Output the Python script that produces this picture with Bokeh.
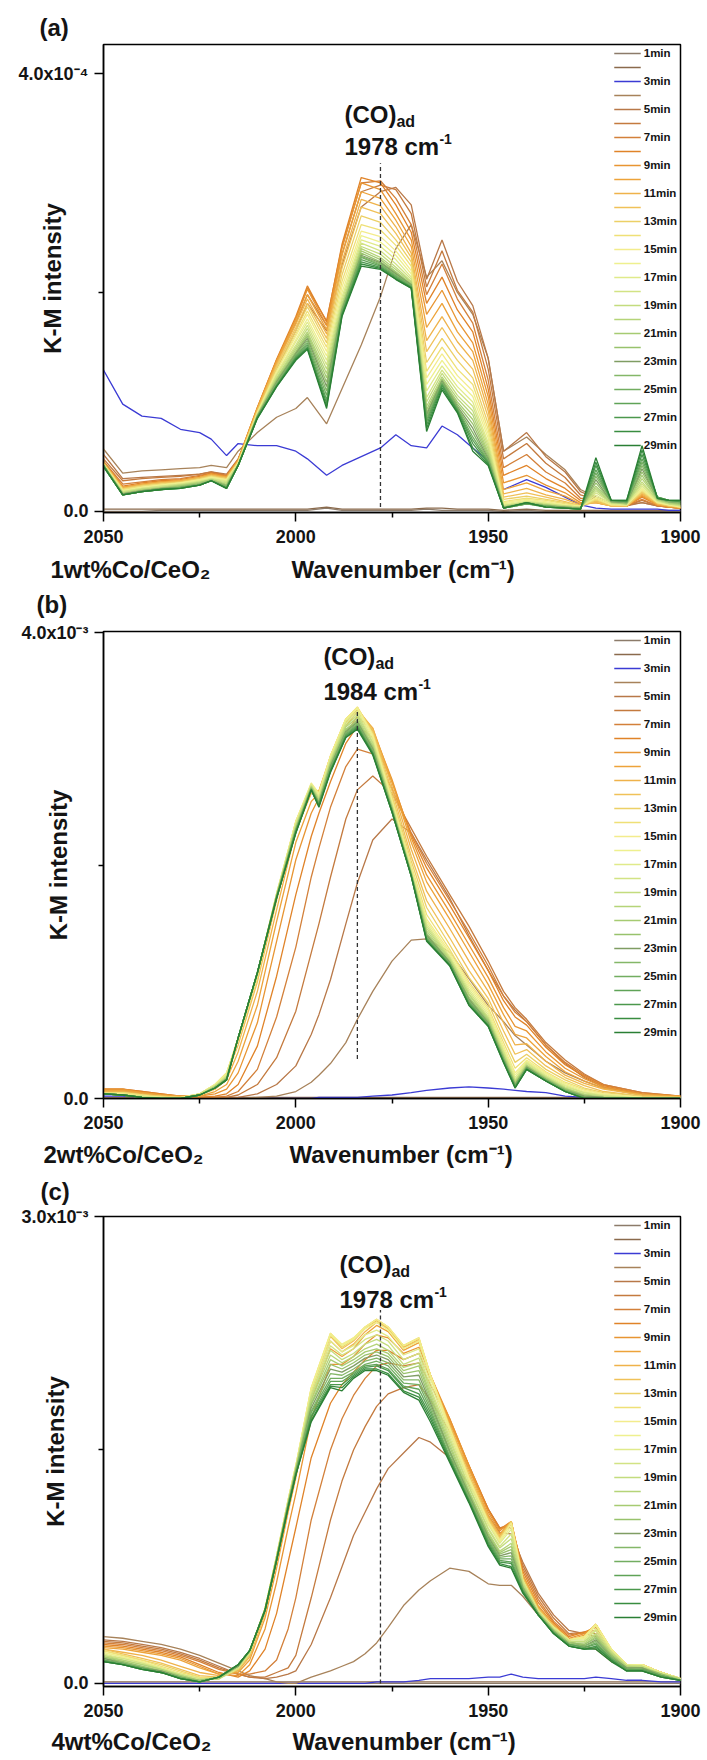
import math
from bokeh.plotting import figure
from bokeh.models import Range1d, FixedTicker, Legend, LegendItem, Label, Title
from bokeh.layouts import column
from bokeh.embed import file_html
from bokeh.resources import INLINE
from bokeh.core.properties import value

# ---------------- data ----------------
times = ["1min", "2min", "3min", "4min", "5min", "6min", "7min", "8min", "9min", "10min",
         "11min", "12min", "13min", "14min", "15min", "16min", "17min", "18min", "19min", "20min",
         "21min", "22min", "23min", "24min", "25min", "26min", "27min", "28min", "29min"]
legend_labels = ["1min", "", "3min", "", "5min", "", "7min", "", "9min", "", "11min", "",
                 "13min", "", "15min", "", "17min", "", "19min", "", "21min", "", "23min", "",
                 "25min", "", "27min", "", "29min"]
colors = ["#8c7b6a", "#8a6a4c", "#3b3bd4", "#a7825a", "#b87848", "#c47a3e", "#d3803a", "#e08328",
          "#e89532", "#eda33a", "#efb24a", "#f0c158", "#ecd066", "#efe076", "#f3ec8c", "#eef08e",
          "#e0ea8a", "#d2e384", "#c3dc7e", "#b5d478", "#a6cb72", "#98c26c", "#7f9d63", "#84b768",
          "#72ad60", "#5fa357", "#4b984c", "#398d40", "#2a7f34"]

# panel (a) 1wt%Co/CeO2, K-M intensity in units of 1e-6
wn_a = [2050, 2045, 2040, 2035, 2030, 2025, 2022, 2018, 2015, 2010, 2005, 2000, 1997, 1992, 1988, 1983,
        1978, 1974, 1970, 1966, 1962, 1958, 1954, 1950, 1946, 1940, 1935, 1930, 1926, 1922, 1918, 1914,
        1910, 1906, 1903, 1900]
a01 = [0, 0, 0, 1, 1, 1, 1, 1, 1, 1, 1, 1, 1, 3, 1, 1, 1, 1, 1, 2, 1, 1, 1, 1, 0, 1, 0, 0, 0, 0, 0, 0, 0, 0, 0, 0]
a02 = [2, 2, 2, 2, 2, 2, 2, 2, 2, 2, 2, 2, 2, 4, 2, 2, 2, 2, 2, 3, 3, 2, 2, 2, 1, 2, 1, 1, 1, 1, 1, 1, 1, 1, 1, 1]
a03 = [129, 98, 87, 85, 75, 72, 66, 51, 62, 60, 60, 55, 48, 33, 42, 50, 58, 70, 60, 58, 78, 70, 58, 46, 20, 29, 22, 13, 6, 3, 2, 2, 2, 2, 1, 1]
a04 = [57, 35, 37, 38, 39, 40, 42, 40, 55, 72, 86, 94, 104, 80, 112, 152, 196, 240, 262, 214, 229, 200, 180, 140, 55, 68, 52, 38, 20, 13, 8, 6, 8, 5, 4, 3]
a05 = [52, 30, 31, 32, 33, 34, 36, 34, 48, 90, 130, 165, 190, 165, 225, 278, 292, 296, 280, 212, 248, 210, 188, 140, 55, 72, 50, 36, 18, 12, 7, 5, 8, 5, 4, 3]
a06 = [48, 28, 30, 31, 32, 34, 36, 33, 47, 92, 136, 172, 198, 170, 235, 292, 298, 294, 272, 205, 238, 202, 182, 130, 48, 62, 44, 31, 15, 11, 7, 5, 10, 5, 4, 3]
a07 = [46, 25, 27, 29, 30, 33, 35, 33, 47, 94, 138, 176, 204, 174, 242, 300, 302, 286, 262, 198, 226, 194, 172, 120, 40, 52, 36, 26, 12, 10, 6, 5, 11, 5, 4, 3]
a08 = [45, 23, 26, 28, 29, 32, 35, 32, 47, 95, 139, 178, 206, 173, 244, 305, 300, 280, 255, 190, 214, 184, 164, 112, 33, 42, 30, 21, 10, 9, 6, 5, 13, 6, 4, 3]
a09 = [45, 22, 25, 27, 28, 31, 34, 32, 47, 95, 138, 176, 203, 170, 240, 300, 294, 272, 248, 180, 202, 174, 154, 105, 26, 33, 24, 17, 8, 8, 5, 5, 14, 6, 4, 3]
a10 = [45, 22, 25, 27, 28, 31, 34, 31, 46, 94, 137, 174, 198, 166, 234, 292, 286, 266, 242, 168, 190, 164, 146, 98, 20, 26, 19, 14, 7, 8, 5, 5, 15, 6, 5, 3]
a11 = [44, 21, 24, 26, 28, 31, 33, 31, 46, 93, 135, 171, 194, 162, 228, 285, 279, 260, 236, 156, 178, 155, 138, 92, 16, 21, 15, 11, 6, 8, 5, 5, 16, 7, 5, 4]
a12 = [44, 21, 24, 26, 27, 30, 33, 30, 45, 92, 133, 168, 190, 158, 222, 278, 272, 254, 232, 146, 168, 146, 130, 86, 13, 17, 13, 9, 5, 9, 5, 5, 17, 7, 5, 4]
a13 = [44, 20, 23, 25, 27, 30, 32, 30, 45, 91, 131, 165, 187, 154, 216, 270, 264, 248, 228, 136, 158, 138, 122, 80, 11, 14, 11, 8, 5, 10, 6, 5, 18, 8, 5, 4]
a14 = [43, 20, 23, 25, 26, 29, 32, 29, 44, 90, 129, 162, 183, 150, 210, 262, 257, 243, 224, 128, 150, 130, 116, 75, 9, 12, 10, 7, 5, 11, 6, 6, 19, 8, 6, 4]
a15 = [43, 19, 22, 24, 26, 29, 31, 29, 44, 90, 128, 160, 180, 146, 205, 256, 251, 238, 220, 122, 144, 124, 110, 71, 8, 11, 9, 6, 5, 12, 6, 6, 20, 8, 6, 4]
a16 = [43, 19, 22, 24, 26, 28, 31, 28, 44, 89, 126, 157, 176, 142, 200, 252, 246, 234, 217, 116, 138, 119, 105, 67, 7, 10, 8, 6, 4, 13, 7, 6, 21, 9, 6, 5]
a17 = [43, 18, 21, 23, 25, 28, 30, 28, 43, 89, 125, 155, 173, 138, 196, 248, 242, 230, 214, 110, 133, 114, 100, 63, 6, 9, 7, 5, 4, 15, 7, 6, 23, 9, 7, 5]
a18 = [42, 18, 21, 23, 25, 27, 30, 27, 43, 88, 124, 152, 170, 134, 193, 245, 238, 226, 212, 104, 129, 110, 96, 60, 5, 9, 7, 5, 4, 17, 8, 7, 25, 10, 7, 5]
a19 = [42, 17, 20, 22, 24, 27, 29, 26, 43, 88, 122, 150, 167, 130, 190, 242, 235, 223, 210, 100, 126, 106, 92, 57, 5, 8, 6, 5, 4, 19, 8, 7, 27, 10, 7, 6]
a20 = [42, 17, 20, 22, 24, 26, 29, 25, 42, 88, 121, 148, 164, 126, 188, 240, 232, 221, 209, 96, 123, 103, 88, 54, 4, 8, 6, 4, 3, 21, 8, 7, 30, 11, 8, 6]
a21 = [42, 16, 19, 21, 23, 26, 29, 24, 42, 87, 120, 146, 162, 122, 186, 238, 230, 219, 208, 93, 121, 100, 84, 52, 4, 8, 6, 4, 3, 23, 9, 7, 33, 11, 8, 7]
a22 = [42, 16, 19, 21, 23, 25, 28, 24, 42, 87, 119, 145, 160, 118, 185, 236, 228, 218, 207, 90, 120, 98, 80, 50, 4, 7, 5, 4, 3, 26, 9, 8, 36, 12, 9, 7]
a23 = [42, 16, 19, 21, 22, 25, 28, 23, 42, 87, 118, 144, 158, 114, 184, 234, 227, 217, 207, 88, 119, 96, 76, 48, 4, 7, 5, 4, 3, 29, 9, 8, 39, 12, 9, 8]
a24 = [42, 15, 18, 20, 22, 25, 28, 23, 42, 86, 117, 143, 156, 110, 183, 233, 226, 216, 206, 86, 118, 95, 72, 47, 3, 7, 5, 3, 3, 32, 10, 8, 42, 12, 9, 8]
a25 = [42, 15, 18, 20, 22, 24, 28, 22, 42, 86, 116, 142, 154, 106, 182, 232, 225, 215, 206, 84, 117, 94, 68, 46, 3, 7, 5, 3, 2, 35, 10, 9, 45, 13, 10, 9]
a26 = [42, 15, 18, 20, 22, 24, 28, 22, 42, 86, 115, 141, 152, 102, 181, 230, 224, 214, 205, 82, 116, 93, 65, 45, 3, 7, 4, 3, 2, 38, 10, 9, 48, 13, 10, 9]
a27 = [41, 15, 18, 20, 21, 24, 28, 21, 42, 86, 115, 140, 150, 99, 180, 228, 223, 213, 205, 79, 115, 92, 62, 44, 3, 8, 4, 3, 2, 42, 10, 9, 52, 13, 10, 9]
a28 = [41, 15, 18, 20, 21, 24, 28, 21, 42, 85, 114, 139, 149, 96, 179, 226, 222, 212, 204, 76, 113, 91, 58, 43, 3, 8, 4, 3, 2, 45, 10, 10, 56, 12, 10, 10]
a29 = [41, 15, 18, 20, 21, 24, 28, 21, 42, 85, 114, 138, 148, 94, 178, 224, 221, 212, 204, 73, 111, 90, 55, 42, 3, 8, 4, 3, 2, 49, 10, 10, 60, 12, 10, 10]

# panel (b) 2wt%Co/CeO2, K-M intensity in units of 1e-5
wn_b = [2050, 2045, 2040, 2035, 2030, 2025, 2021, 2018, 2015, 2010, 2005, 2000, 1996, 1994, 1991, 1987,
        1984, 1980, 1975, 1970, 1966, 1960, 1955, 1950, 1946, 1943, 1940, 1935, 1930, 1925, 1920, 1910, 1900]
b01 = [0, 0, 0, 0, 0, 0, 0, 0, 0, 0, 0, 0, 0, 0, 0, 0, 0, 0, 0, 0, 0, 0, 0, 0, 0, 0, 0, 0, 0, 0, 0, 0, 0]
b02 = [1, 1, 1, 1, 1, 1, 1, 1, 1, 1, 1, 1, 1, 1, 1, 1, 1, 1, 1, 1, 1, 1, 1, 1, 1, 1, 1, 1, 1, 1, 1, 1, 1]
b03 = [2, 2, 1, 1, 1, 0, 0, 0, 0, 0, 0, 0, 0, 1, 1, 1, 1, 2, 3, 5, 7, 9, 10, 9, 8, 7, 6, 5, 2, 1, 0, 0, 0]
b04 = [0, 0, 0, 0, 0, 0, 0, 0, 0, 1, 2, 6, 14, 20, 30, 48, 68, 92, 118, 136, 137, 126, 103, 80, 66, 54, 46, 32, 22, 15, 9, 3, 1]
b05 = [6, 6, 4, 3, 2, 1, 0, 0, 1, 4, 12, 28, 55, 72, 102, 150, 185, 222, 240, 228, 205, 172, 140, 110, 88, 76, 66, 46, 30, 18, 10, 3, 1]
b06 = [7, 7, 5, 3, 2, 1, 1, 1, 3, 12, 35, 75, 125, 150, 190, 240, 265, 277, 262, 232, 208, 175, 148, 118, 92, 78, 68, 48, 33, 21, 12, 5, 2]
b07 = [8, 8, 6, 4, 2, 1, 1, 2, 6, 25, 70, 130, 190, 215, 250, 285, 300, 296, 266, 228, 202, 170, 143, 114, 88, 74, 66, 46, 31, 20, 12, 5, 2]
b08 = [8, 8, 6, 4, 2, 1, 2, 4, 12, 45, 105, 175, 225, 245, 272, 305, 320, 310, 272, 226, 198, 166, 138, 110, 84, 70, 63, 44, 29, 19, 11, 4, 2]
b09 = [8, 8, 5, 3, 2, 2, 4, 8, 22, 65, 135, 205, 245, 258, 282, 314, 328, 316, 274, 224, 192, 160, 132, 104, 78, 62, 58, 40, 26, 17, 10, 4, 2]
b10 = [7, 7, 5, 3, 2, 2, 6, 12, 32, 80, 152, 220, 255, 262, 288, 320, 332, 318, 272, 220, 186, 154, 126, 98, 72, 55, 52, 36, 23, 15, 9, 3, 2]
b11 = [6, 6, 4, 2, 1, 3, 8, 16, 40, 92, 162, 230, 262, 264, 292, 323, 334, 318, 268, 214, 178, 146, 118, 92, 65, 46, 47, 32, 20, 13, 8, 3, 1]
b12 = [5, 5, 3, 2, 1, 3, 10, 20, 46, 100, 170, 236, 266, 264, 294, 325, 335, 316, 264, 208, 170, 138, 110, 86, 58, 38, 42, 28, 18, 11, 6, 2, 1]
b13 = [5, 5, 3, 2, 1, 4, 12, 22, 50, 104, 174, 238, 268, 262, 294, 326, 336, 314, 260, 204, 164, 132, 104, 82, 52, 31, 38, 25, 16, 9, 5, 2, 1]
b14 = [5, 5, 3, 1, 1, 4, 12, 22, 51, 105, 175, 238, 270, 262, 294, 326, 336, 313, 258, 200, 158, 128, 100, 78, 48, 26, 35, 23, 14, 8, 4, 1, 0]
b15 = [4, 4, 2, 1, 0, 4, 12, 22, 52, 106, 176, 238, 271, 262, 294, 326, 336, 312, 256, 198, 154, 126, 98, 76, 45, 22, 33, 22, 13, 7, 4, 1, 0]
b16 = [4, 4, 2, 1, 0, 4, 12, 21, 52, 106, 176, 237, 270, 261, 293, 325, 335, 310, 254, 197, 152, 124, 96, 74, 43, 20, 32, 21, 12, 6, 3, 1, 0]
b17 = [4, 3, 2, 1, 0, 4, 11, 20, 52, 107, 176, 236, 270, 259, 292, 324, 333, 308, 253, 196, 150, 122, 94, 72, 41, 18, 31, 20, 11, 5, 3, 0, 0]
b18 = [4, 3, 2, 0, 0, 4, 11, 19, 52, 107, 175, 235, 269, 258, 290, 322, 331, 306, 252, 195, 148, 121, 92, 70, 40, 16, 30, 19, 10, 5, 2, 0, 0]
b19 = [4, 3, 1, 0, 0, 3, 10, 18, 52, 107, 175, 234, 268, 257, 289, 320, 329, 305, 251, 194, 146, 120, 90, 69, 38, 15, 29, 18, 9, 4, 2, 0, 0]
b20 = [4, 3, 1, 0, 0, 3, 10, 18, 52, 107, 174, 233, 268, 256, 288, 319, 327, 303, 250, 194, 144, 119, 89, 68, 37, 14, 28, 18, 9, 3, 1, 0, 0]
b21 = [4, 3, 1, 0, 0, 3, 10, 17, 52, 108, 174, 232, 267, 255, 287, 317, 325, 302, 249, 193, 142, 118, 87, 67, 36, 13, 28, 17, 8, 3, 1, 0, 0]
b22 = [4, 3, 1, 0, 0, 3, 10, 17, 52, 108, 174, 231, 267, 254, 286, 316, 324, 301, 249, 193, 141, 117, 86, 66, 35, 12, 27, 17, 8, 2, 1, 0, 0]
b23 = [4, 3, 1, 0, 0, 3, 9, 17, 52, 108, 173, 231, 266, 254, 285, 315, 323, 300, 248, 192, 140, 117, 85, 65, 34, 12, 27, 16, 7, 2, 1, 0, 0]
b24 = [4, 3, 1, 0, 0, 3, 9, 16, 52, 108, 173, 230, 266, 253, 284, 314, 322, 299, 248, 192, 139, 116, 84, 64, 33, 11, 26, 16, 7, 1, 0, 0, 0]
b25 = [4, 3, 1, 0, 0, 3, 9, 16, 52, 108, 173, 230, 266, 253, 283, 313, 321, 298, 247, 192, 138, 116, 83, 64, 33, 11, 26, 16, 7, 1, 0, 0, 0]
b26 = [4, 3, 1, 0, 0, 3, 9, 16, 52, 108, 172, 229, 265, 252, 282, 312, 320, 297, 247, 191, 137, 115, 82, 63, 32, 10, 26, 15, 6, 1, 0, 0, 0]
b27 = [4, 3, 1, 0, 0, 3, 9, 16, 52, 108, 172, 229, 265, 252, 281, 311, 319, 296, 246, 191, 136, 115, 81, 63, 32, 10, 25, 15, 6, 0, 0, 0, 0]
b28 = [4, 3, 1, 0, 0, 3, 9, 16, 52, 108, 172, 228, 265, 251, 281, 310, 318, 296, 246, 191, 136, 114, 80, 62, 31, 9, 25, 15, 6, 0, 0, 0, 0]
b29 = [4, 3, 1, 0, 0, 3, 9, 16, 52, 108, 172, 228, 265, 250, 280, 310, 317, 295, 246, 191, 135, 114, 80, 62, 31, 9, 25, 15, 6, 0, 0, 0, 0]

# panel (c) 4wt%Co/CeO2, K-M intensity in units of 1e-5
wn_c = [2050, 2045, 2040, 2035, 2030, 2025, 2020, 2015, 2012, 2008, 2005, 2002, 2000, 1996, 1991, 1988,
        1985, 1982, 1979, 1976, 1972, 1968, 1965, 1960, 1955, 1950, 1947, 1944, 1941, 1937, 1933, 1929,
        1925, 1922, 1918, 1914, 1910, 1905, 1900]
c01 = [0, 0, 0, 0, 0, 0, 0, 0, 0, 0, 0, 0, 0, 0, 0, 0, 0, 0, 0, 0, 0, 0, 0, 0, 0, 0, 0, 0, 0, 0, 0, 0, 0, 0, 0, 0, 0, 0, 0]
c02 = [1, 1, 1, 1, 1, 1, 1, 1, 1, 1, 1, 1, 1, 1, 1, 1, 1, 1, 1, 1, 1, 1, 1, 1, 1, 1, 1, 1, 1, 1, 1, 1, 1, 1, 1, 1, 1, 1, 1]
c03 = [0, 0, 0, 0, 0, 0, 0, 0, 0, 0, 0, 0, 0, 0, 0, 0, 0, 0, 1, 1, 1, 2, 3, 3, 3, 4, 4, 6, 4, 3, 3, 3, 3, 4, 3, 2, 2, 1, 1]
c04 = [30, 29, 27, 25, 22, 18, 13, 8, 5, 3, 1, 0, 0, 4, 8, 11, 14, 19, 26, 36, 50, 60, 66, 74, 72, 64, 63, 63, 56, 44, 34, 27, 24, 22, 14, 10, 8, 5, 3]
c05 = [28, 27, 25, 23, 20, 16, 11, 6, 4, 3, 4, 6, 8, 25, 55, 75, 95, 110, 125, 138, 148, 158, 155, 145, 128, 108, 97, 96, 78, 58, 44, 34, 32, 30, 18, 12, 10, 6, 3]
c06 = [27, 26, 24, 22, 19, 15, 10, 6, 4, 4, 7, 10, 18, 55, 105, 130, 150, 165, 178, 186, 190, 192, 182, 162, 138, 112, 100, 100, 76, 56, 42, 32, 33, 32, 19, 12, 11, 6, 3]
c07 = [26, 25, 23, 21, 18, 14, 9, 6, 6, 8, 15, 35, 55, 105, 150, 170, 185, 196, 204, 206, 204, 206, 192, 168, 140, 112, 100, 102, 74, 54, 40, 31, 33, 34, 20, 12, 11, 7, 3]
c08 = [25, 24, 22, 20, 17, 12, 7, 4, 8, 22, 45, 78, 100, 145, 180, 192, 200, 208, 214, 214, 208, 212, 196, 170, 140, 112, 99, 104, 72, 52, 39, 30, 33, 36, 20, 12, 12, 7, 3]
c09 = [24, 23, 21, 19, 16, 11, 6, 5, 12, 35, 65, 100, 122, 170, 205, 205, 210, 218, 224, 222, 212, 216, 198, 170, 140, 110, 98, 104, 70, 50, 38, 29, 32, 37, 20, 12, 12, 7, 3]
c10 = [23, 22, 20, 18, 15, 10, 6, 7, 15, 42, 74, 110, 132, 182, 215, 210, 215, 224, 230, 226, 214, 219, 198, 168, 138, 108, 96, 104, 69, 49, 37, 28, 31, 38, 21, 12, 12, 7, 3]
c11 = [22, 20, 18, 15, 11, 7, 5, 8, 17, 45, 78, 114, 136, 186, 220, 213, 218, 226, 232, 228, 216, 220, 198, 166, 136, 107, 95, 104, 68, 48, 37, 28, 30, 38, 21, 12, 12, 7, 3]
c12 = [22, 19, 16, 13, 9, 5, 4, 9, 18, 46, 80, 116, 138, 188, 223, 215, 220, 228, 233, 228, 216, 221, 198, 165, 134, 106, 94, 104, 68, 48, 37, 28, 30, 38, 22, 12, 12, 7, 3]
c13 = [21, 18, 15, 12, 8, 4, 3, 9, 19, 47, 81, 117, 139, 189, 224, 216, 221, 229, 234, 229, 217, 222, 198, 165, 133, 105, 93, 104, 67, 47, 36, 28, 30, 38, 22, 12, 12, 7, 3]
c14 = [21, 18, 15, 11, 7, 4, 3, 10, 19, 48, 82, 118, 140, 190, 225, 217, 222, 229, 234, 229, 217, 222, 198, 164, 132, 104, 92, 103, 66, 46, 36, 28, 30, 38, 22, 12, 12, 7, 3]
c15 = [20, 17, 14, 10, 6, 3, 3, 10, 20, 48, 82, 118, 140, 190, 225, 218, 222, 229, 234, 229, 217, 222, 198, 164, 132, 104, 92, 103, 66, 46, 36, 28, 30, 38, 22, 12, 12, 7, 3]
c16 = [20, 17, 14, 10, 6, 3, 3, 10, 20, 48, 82, 118, 140, 189, 224, 217, 221, 228, 232, 227, 215, 220, 196, 162, 130, 103, 91, 101, 66, 46, 36, 28, 29, 37, 22, 12, 12, 7, 3]
c17 = [19, 16, 13, 10, 6, 3, 3, 10, 20, 48, 82, 117, 139, 187, 220, 213, 217, 224, 227, 223, 211, 215, 193, 160, 129, 102, 90, 99, 66, 47, 36, 28, 28, 35, 21, 12, 11, 7, 3]
c18 = [18, 16, 13, 9, 6, 3, 3, 10, 20, 48, 81, 117, 139, 185, 217, 211, 215, 221, 224, 220, 208, 212, 190, 158, 127, 100, 88, 96, 65, 46, 35, 27, 27, 34, 20, 11, 11, 6, 3]
c19 = [18, 15, 12, 9, 5, 2, 3, 11, 20, 48, 81, 116, 138, 184, 214, 208, 212, 218, 221, 217, 205, 209, 188, 156, 126, 99, 87, 93, 64, 46, 35, 27, 27, 32, 20, 11, 11, 6, 3]
c20 = [17, 15, 12, 9, 5, 2, 3, 11, 21, 48, 81, 116, 138, 182, 211, 206, 210, 215, 218, 214, 203, 206, 186, 154, 124, 97, 85, 90, 63, 45, 34, 26, 26, 31, 19, 11, 10, 6, 3]
c21 = [17, 14, 11, 8, 5, 2, 4, 11, 21, 48, 80, 115, 137, 180, 208, 204, 208, 213, 215, 212, 201, 204, 184, 152, 123, 96, 84, 88, 62, 45, 34, 26, 25, 30, 18, 10, 10, 6, 2]
c22 = [16, 14, 11, 8, 4, 2, 4, 11, 21, 47, 80, 115, 137, 179, 205, 202, 206, 211, 213, 210, 199, 201, 182, 150, 122, 95, 83, 86, 62, 45, 34, 26, 25, 29, 18, 10, 10, 6, 2]
c23 = [16, 13, 10, 8, 4, 1, 4, 11, 21, 47, 80, 115, 136, 177, 202, 200, 204, 209, 211, 208, 197, 198, 180, 149, 121, 94, 82, 84, 61, 45, 33, 25, 24, 28, 17, 10, 10, 5, 2]
c24 = [15, 13, 10, 7, 4, 1, 4, 12, 21, 47, 80, 114, 136, 175, 199, 198, 202, 207, 209, 206, 195, 195, 178, 148, 120, 93, 81, 82, 61, 45, 33, 25, 24, 27, 17, 9, 9, 5, 2]
c25 = [15, 13, 10, 7, 4, 1, 4, 12, 21, 47, 79, 114, 135, 174, 196, 196, 200, 205, 207, 204, 193, 192, 176, 146, 119, 92, 80, 80, 60, 44, 33, 25, 23, 26, 16, 9, 9, 5, 2]
c26 = [15, 12, 10, 7, 3, 1, 4, 12, 21, 47, 79, 114, 135, 172, 194, 194, 199, 204, 205, 202, 191, 189, 174, 145, 118, 91, 79, 78, 60, 44, 33, 25, 23, 25, 16, 9, 9, 5, 2]
c27 = [14, 12, 9, 7, 3, 1, 4, 12, 21, 47, 79, 113, 134, 171, 192, 192, 198, 203, 204, 201, 190, 186, 172, 144, 117, 90, 78, 77, 59, 44, 32, 24, 22, 24, 15, 8, 8, 4, 2]
c28 = [14, 12, 9, 7, 3, 1, 4, 12, 21, 47, 79, 113, 134, 169, 191, 190, 197, 202, 202, 199, 188, 184, 170, 143, 117, 89, 77, 75, 59, 44, 32, 24, 22, 23, 15, 8, 8, 4, 2]
c29 = [14, 12, 9, 7, 3, 1, 4, 12, 21, 47, 79, 113, 134, 168, 190, 188, 196, 201, 201, 198, 187, 182, 168, 142, 116, 88, 76, 74, 58, 44, 32, 24, 22, 22, 14, 8, 8, 4, 2]

series_a = [a01, a02, a03, a04, a05, a06, a07, a08, a09, a10, a11, a12, a13, a14, a15, a16, a17, a18, a19, a20,
            a21, a22, a23, a24, a25, a26, a27, a28, a29]
series_b = [b01, b02, b03, b04, b05, b06, b07, b08, b09, b10, b11, b12, b13, b14, b15, b16, b17, b18, b19, b20,
            b21, b22, b23, b24, b25, b26, b27, b28, b29]
series_c = [c01, c02, c03, c04, c05, c06, c07, c08, c09, c10, c11, c12, c13, c14, c15, c16, c17, c18, c19, c20,
            c21, c22, c23, c24, c25, c26, c27, c28, c29]

x_major = [2050, 2000, 1950, 1900]
x_minor = [2025, 1975, 1925]
samples = ["1wt%Co/CeO\u2082", "2wt%Co/CeO\u2082", "4wt%Co/CeO\u2082"]
x_title = "Wavenumber (cm\u207b\u00b9)"
y_title = "K-M intensity"
letters = ["(a)", "(b)", "(c)"]
peaks = [1978, 1984, 1978]
peak_texts = ["1978 cm", "1984 cm", "1978 cm"]
dash_spans = [(4, 318), (34, 332), (0, 240)]
y_tops = [400, 400, 300]
y_top_labels = ["4.0x10\u207b\u2074", "4.0x10\u207b\u00b3", "3.0x10\u207b\u00b3"]

for s in series_a:
    assert len(s) == len(wn_a), ("a", len(s))
for s in series_b:
    assert len(s) == len(wn_b), ("b", len(s))
for s in series_c:
    assert len(s) == len(wn_c), ("c", len(s))

# ---------------- styling / layout ----------------
FONT = "Liberation Sans"
INK = "#141414"
NBSP = "\u00a0"
ROW_STANDOFF = -20           # standoff of the sample-name title (first text of the bottom row)
ROW2_STANDOFF = -37.6        # pulls the x-axis title back up onto the same row

# figure heights 588 + 586 + 586 = 1760 ; frames at (a) 44-512, (b) 631-1098, (c) 1216-1686
layout_cfg = [
    dict(h=588, top=44, bottom=76, left=100, right=26, ylo=-1, yhi=426.5, sample_x=47, xtitle_x=288,
         letter_spacer=None, letter_standoff=7, bottom_spacer=20,
         ylab_standoff=-50, co_dy=-70, num_dy=-102, co_dx=-36),
    dict(h=586, top=43, bottom=76, left=103, right=24, ylo=0, yhi=401, sample_x=43, xtitle_x=289,
         letter_spacer=21, letter_standoff=-14, bottom_spacer=19,
         ylab_standoff=-54, co_dy=-25, num_dy=-60, co_dx=-34),
    dict(h=586, top=42, bottom=74, left=99, right=27, ylo=-2, yhi=300, sample_x=47, xtitle_x=288,
         letter_spacer=19, letter_standoff=-14, bottom_spacer=18,
         ylab_standoff=-51, co_dy=-48, num_dy=-83, co_dx=-41),
]


def spacer(p, side, size):
    p.add_layout(Title(text=NBSP, text_font_size="1px", standoff=max(size - 3, 0),
                       text_color="white"), side)


def row_title(text, offset, standoff):
    return Title(text=text, align="left", offset=offset, vertical_align="top", standoff=standoff,
                 text_font=FONT, text_font_style="bold", text_font_size="24px", text_color=INK)


def txt(p, text, x, y, size, x_offset=0):
    p.add_layout(Label(x=x, y=y, x_units="data", y_units="screen", x_offset=x_offset,
                       text=text, text_font=FONT, text_font_style="bold",
                       text_font_size=f"{size}px", text_color=INK,
                       text_align="left", text_baseline="middle"))


def make_panel(i, wn, series):
    cfg = layout_cfg[i]
    fh = cfg["h"] - cfg["top"] - cfg["bottom"]
    left = cfg["left"]
    p = figure(width=707, height=cfg["h"], x_range=Range1d(2050, 1900),
               y_range=Range1d(cfg["ylo"], cfg["yhi"]),
               output_backend="svg", toolbar_location=None,
               min_border_left=left, min_border_right=cfg["right"],
               min_border_top=cfg["top"], min_border_bottom=cfg["bottom"])
    p.xgrid.visible = False
    p.ygrid.visible = False
    p.outline_line_color = "black"
    p.outline_line_width = 1.5
    p.background_fill_color = "white"
    p.border_fill_color = "white"

    # panel letter (figure title), left of the frame
    if cfg["letter_spacer"] is not None:
        spacer(p, "above", cfg["letter_spacer"])
    p.title.text = letters[i]
    p.title.align = "left"
    p.title.offset = 36 - left
    p.title.standoff = cfg["letter_standoff"]
    p.title.text_font = FONT
    p.title.text_font_style = "bold"
    p.title.text_font_size = "24px"
    p.title.text_color = INK

    p.xaxis.ticker = FixedTicker(ticks=x_major, minor_ticks=x_minor)
    p.yaxis.ticker = FixedTicker(ticks=[0, y_tops[i]], minor_ticks=[y_tops[i] / 2])
    p.yaxis.major_label_overrides = {0: "0.0", y_tops[i]: y_top_labels[i]}
    for ax in (p.xaxis, p.yaxis):
        ax.axis_line_color = "black"
        ax.axis_line_width = 1.5
        ax.major_tick_line_width = 1.5
        ax.minor_tick_line_width = 1.5
        ax.major_tick_out = 9
        ax.major_tick_in = 0
        ax.minor_tick_out = 5
        ax.minor_tick_in = 0
        ax.major_label_text_font = FONT
        ax.major_label_text_font_style = "bold"
        ax.major_label_text_font_size = "18px"
        ax.major_label_text_color = INK
    p.xaxis.major_label_standoff = 8
    p.yaxis.major_label_standoff = 6
    p.yaxis.axis_label = y_title
    p.yaxis.axis_label_text_font = FONT
    p.yaxis.axis_label_text_font_style = "bold"
    p.yaxis.axis_label_text_font_size = "24px"
    p.yaxis.axis_label_text_color = INK
    p.yaxis.axis_label_standoff = cfg["ylab_standoff"]

    # bottom row: sample name and x-axis title side by side
    spacer(p, "below", cfg["bottom_spacer"])
    p.add_layout(row_title(samples[i], cfg["sample_x"] - left, ROW_STANDOFF), "below")
    p.add_layout(row_title(x_title, cfg["xtitle_x"] - left, ROW2_STANDOFF), "below")

    renderers = []
    for s, c in zip(series, colors):
        renderers.append(p.line(wn, s, line_color=c, line_width=1.3))

    lo, hi = dash_spans[i]
    p.segment(x0=[peaks[i]], y0=[lo], x1=[peaks[i]], y1=[hi], line_color="#333333",
              line_width=1.3, line_dash="4 3")

    items = [LegendItem(label=value(lbl), renderers=[r]) for lbl, r in zip(legend_labels, renderers)]
    legend = Legend(items=items, location="top_right", margin=0, padding=3, spacing=2,
                    glyph_width=27, glyph_height=12, label_height=12, label_standoff=3,
                    label_text_font=FONT, label_text_font_style="bold",
                    label_text_font_size="11.5px", label_text_color=INK,
                    border_line_alpha=0, background_fill_alpha=0)
    p.add_layout(legend)

    # (CO)ad label at the peak
    txt(p, "(CO)", peaks[i], fh + cfg["co_dy"], 24, x_offset=cfg["co_dx"])
    txt(p, "ad", peaks[i], fh + cfg["co_dy"] - 7, 16, x_offset=cfg["co_dx"] + 52)
    txt(p, peak_texts[i], peaks[i], fh + cfg["num_dy"], 24, x_offset=cfg["co_dx"])
    txt(p, "-1", peaks[i], fh + cfg["num_dy"] + 8, 14, x_offset=cfg["co_dx"] + 95)
    return p


pa = make_panel(0, wn_a, series_a)
pb = make_panel(1, wn_b, series_b)
pc = make_panel(2, wn_c, series_c)

page = column(pa, pb, pc, spacing=0)
open("out.html", "w").write(file_html(page, INLINE))
